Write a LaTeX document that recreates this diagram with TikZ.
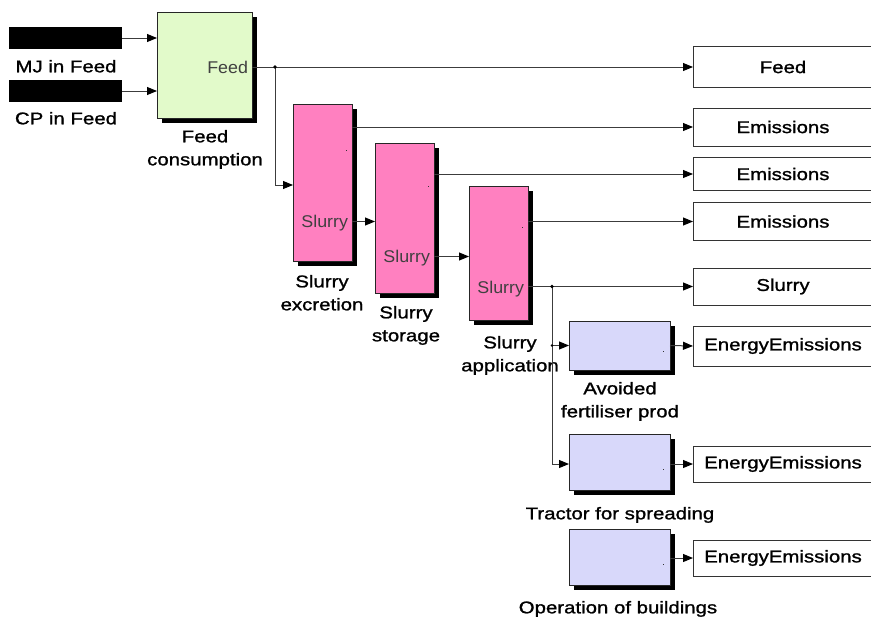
\documentclass[tikz,border=0pt]{standalone}
\usepackage{fontspec}
\setmainfont[FakeStretch=1.2,FakeBold=1.2]{Liberation Sans}
\newfontfamily\portfont[FakeStretch=1.05]{Liberation Sans}
\usetikzlibrary{arrows.meta,shadows,calc}

\definecolor{feedgreen}{RGB}{226,250,202}
\definecolor{slurrypink}{RGB}{255,128,192}
\definecolor{energyblue}{RGB}{216,216,250}
\definecolor{wire}{RGB}{60,60,60}

\begin{document}
\begin{tikzpicture}[x=1pt,y=-1pt,
  every node/.style={inner sep=0pt, outer sep=0pt},
  block/.style={draw=black!85, line width=0.8pt,
    drop shadow={shadow xshift=5pt, shadow yshift=-5pt, fill=black, opacity=1}},
  bar/.style={fill=black, minimum width=113pt, minimum height=22pt},
  sink/.style={draw=black!80, line width=0.8pt, fill=white, minimum width=200pt,
    font=\fontsize{17}{20}\selectfont},
  lbl/.style={font=\fontsize{17}{23}\selectfont, align=center, anchor=north},
  porttxt/.style={font=\portfont\fontsize{17}{20}\selectfont, text=black!75, anchor=base east},
  conn/.style={draw=wire, line width=1pt, -{Triangle[length=10pt,width=8pt,color=black]}},
  wireline/.style={draw=wire, line width=1pt},
  jdot/.style={fill=black},
  pdot/.style={fill=black!80}
]
\useasboundingbox (0,0) rectangle (871,621);
\clip (0,0) rectangle (871,621);

% ---- sources -------------------------------------------------------------
\node[bar] (mj) at (65.5,38) {};
\node[bar] (cp) at (65.5,91) {};
\node[lbl] (mjl) at (66,60) {MJ in Feed};
\node[lbl] (cpl) at (66,112) {CP in Feed};

% ---- processing blocks ---------------------------------------------------
\node[block, fill=feedgreen, minimum width=95pt, minimum height=106pt] (fc) at (204.5,65) {};
\node[block, fill=slurrypink, minimum width=59pt, minimum height=157pt] (exc) at (322.5,182.5) {};
\node[block, fill=slurrypink, minimum width=59pt, minimum height=150pt] (sto) at (404.5,218) {};
\node[block, fill=slurrypink, minimum width=59pt, minimum height=134pt] (app) at (498.5,253) {};
\node[block, fill=energyblue, minimum width=101pt, minimum height=49pt] (avo) at (619.5,345.5) {};
\node[block, fill=energyblue, minimum width=101pt, minimum height=56pt] (tra) at (619.5,462) {};
\node[block, fill=energyblue, minimum width=101pt, minimum height=56pt] (ope) at (619.5,557) {};

% port labels inside blocks
\node[porttxt] (fcp) at (248,73) {Feed};
\node[porttxt] (excp) at (348,227.5) {Slurry};
\node[porttxt] (stop) at (430,262) {Slurry};
\node[porttxt] (appp) at (524,293) {Slurry};

% unnamed output ports
\fill[pdot] (345.5,149.5) rectangle ++(1.3,1.3);
\fill[pdot] (427.5,185.5) rectangle ++(1.3,1.3);
\fill[pdot] (521.5,226.5) rectangle ++(1.3,1.3);
\fill[pdot] (662.5,350.5) rectangle ++(1.3,1.3);
\fill[pdot] (662.5,468.5) rectangle ++(1.3,1.3);
\fill[pdot] (662.5,563.5) rectangle ++(1.3,1.3);

% block names
\node[lbl] (fcl) at (205,130) {Feed\\consumption};
\node[lbl] (excl) at (322,275) {Slurry\\excretion};
\node[lbl] (stol) at (406,306) {Slurry\\storage};
\node[lbl] (appl) at (510,336) {Slurry\\application};
\node[lbl] (avol) at (620,382) {Avoided\\fertiliser prod};
\node[lbl] (tral) at (620,507) {Tractor for spreading};
\node[lbl] (opel) at (618,601) {Operation of buildings};

% ---- sinks (open on the right) -------------------------------------------
\node[sink, minimum height=41pt] (sfeed) at (793,67) {\hspace*{-20pt}Feed};
\node[sink, minimum height=38pt] (sem1) at (793,127) {\hspace*{-20pt}Emissions};
\node[sink, minimum height=33pt] (sem2) at (793,174) {\hspace*{-20pt}Emissions};
\node[sink, minimum height=38pt] (sem3) at (793,221.5) {\hspace*{-20pt}Emissions};
\node[sink, minimum height=37pt] (sslu) at (793,286.5) {\hspace*{-20pt}Slurry};
\node[sink, minimum height=40pt] (see1) at (793,346) {\hspace*{-20pt}EnergyEmissions};
\node[sink, minimum height=36pt] (see2) at (793,464) {\hspace*{-20pt}EnergyEmissions};
\node[sink, minimum height=36pt] (see3) at (793,558) {\hspace*{-20pt}EnergyEmissions};

% ---- port coordinates ----------------------------------------------------
\coordinate (fcin1) at (157,38);
\coordinate (fcin2) at (157,91);
\coordinate (fcout) at (252,67);
\coordinate (j1) at (275,67);
\coordinate (excin) at (293,185);
\coordinate (excout1) at (352,127);
\coordinate (excout2) at (352,221.5);
\coordinate (stoout1) at (434,174);
\coordinate (stoout2) at (434,256.5);
\coordinate (appout1) at (528,221.5);
\coordinate (appout2) at (528,286.5);
\coordinate (j2) at (552,286.5);
\coordinate (j3) at (552,345.5);
\coordinate (avoout) at (670,345.5);
\coordinate (traout) at (670,464);
\coordinate (opeout) at (670,558);

% ---- connectors ----------------------------------------------------------
\draw[conn] (mj.east |- fcin1) -- (fcin1);
\draw[conn] (cp.east |- fcin2) -- (fcin2);
\draw[conn] (fcout) -- (sfeed.west);
\draw[conn] (j1) |- (excin);
\draw[conn] (excout1) -- (sem1.west);
\draw[conn] (excout2) -- (excout2 -| sto.west);
\draw[conn] (stoout1) -- (sem2.west);
\draw[conn] (stoout2) -- (stoout2 -| app.west);
\draw[conn] (appout1) -- (sem3.west);
\draw[conn] (appout2) -- (sslu.west);
\draw[wireline] (j2) -- (j3);
\draw[conn] (j3) -- (avo.west |- j3);
\draw[conn] (j3) |- (tra.west |- traout);
\draw[conn] (avoout) -- (see1.west);
\draw[conn] (traout) -- (see2.west);
\draw[conn] (opeout) -- (see3.west);

% junction points
\fill[jdot] (j1) circle (1.8pt);
\fill[jdot] (j2) circle (1.8pt);
\fill[jdot] (j3) circle (1.3pt);
\end{tikzpicture}
\end{document}
